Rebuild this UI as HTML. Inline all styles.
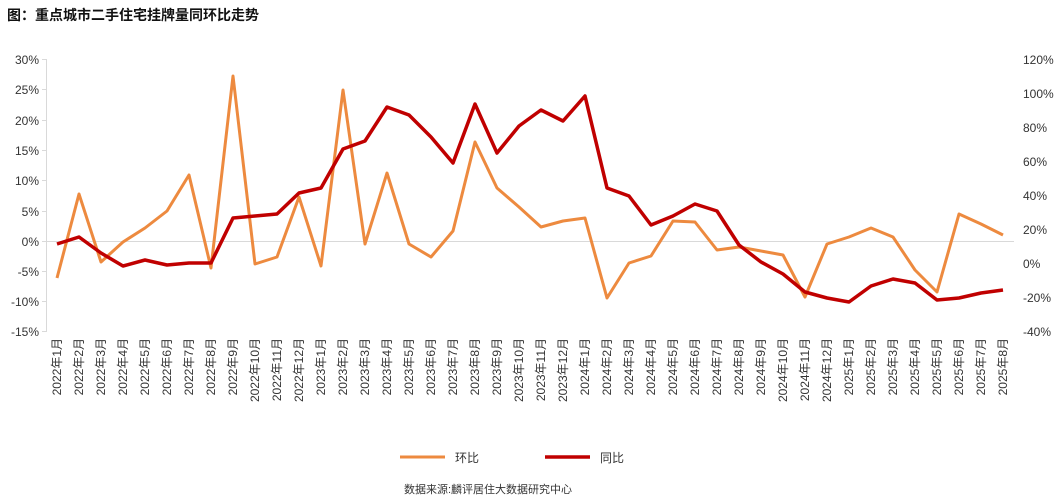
<!DOCTYPE html>
<html><head><meta charset="utf-8"><style>
body{margin:0;background:#fff;}
svg{display:block;font-family:"Liberation Sans","Noto Sans CJK SC",sans-serif;}
</style></head><body>
<svg width="1061" height="501" xmlns="http://www.w3.org/2000/svg">
<text x="7" y="20" font-size="14" font-weight="bold" fill="#111">图：重点城市二手住宅挂牌量同环比走势</text>
<g stroke="#d9d9d9" stroke-width="1" fill="none">
<line x1="46.5" y1="59" x2="46.5" y2="332"/>
<line x1="46" y1="241.5" x2="1014" y2="241.5"/>
</g>
<g stroke="#d9d9d9" stroke-width="1">
<line x1="42" y1="59.5" x2="46" y2="59.5"/><line x1="42" y1="89.5" x2="46" y2="89.5"/><line x1="42" y1="120.5" x2="46" y2="120.5"/><line x1="42" y1="150.5" x2="46" y2="150.5"/><line x1="42" y1="180.5" x2="46" y2="180.5"/><line x1="42" y1="211.5" x2="46" y2="211.5"/><line x1="42" y1="241.5" x2="46" y2="241.5"/><line x1="42" y1="271.5" x2="46" y2="271.5"/><line x1="42" y1="301.5" x2="46" y2="301.5"/><line x1="42" y1="331.5" x2="46" y2="331.5"/>
</g>
<g font-size="12" fill="#333" text-anchor="end">
<text x="39" y="64">30%</text><text x="39" y="94">25%</text><text x="39" y="125">20%</text><text x="39" y="155">15%</text><text x="39" y="185">10%</text><text x="39" y="216">5%</text><text x="39" y="246">0%</text><text x="39" y="276">-5%</text><text x="39" y="306">-10%</text><text x="39" y="336">-15%</text>
</g>
<g font-size="12" fill="#333">
<text x="1023" y="64">120%</text><text x="1023" y="98">100%</text><text x="1023" y="132">80%</text><text x="1023" y="166">60%</text><text x="1023" y="200">40%</text><text x="1023" y="234">20%</text><text x="1023" y="268">0%</text><text x="1023" y="302">-20%</text><text x="1023" y="336">-40%</text>
</g>
<polyline fill="none" stroke="#ed8a3f" stroke-width="3" stroke-linejoin="round" points="57,278 79,194 101,262 123,242 145,228 167,211 189,175 211,268 233,76 255,264 277,257 299,197 321,266 343,90 365,244 387,173 409,244 431,257 453,231 475,142 497,188 519,207 541,227 563,221 585,218 607,298 629,263 651,256 673,221 695,222 717,250 739,247 761,251 783,255 805,297 827,244 849,237 871,228 893,237 915,270 937,292 959,214 981,224 1003,235"/>
<polyline fill="none" stroke="#c00000" stroke-width="3.5" stroke-linejoin="round" points="57,244 79,237 101,253 123,266 145,260 167,265 189,263 211,263 233,218 255,216 277,214 299,193 321,188 343,149 365,141 387,107 409,115 431,137 453,163 475,104 497,153 519,126 541,110 563,121 585,96 607,188 629,196 651,225 673,216 695,204 717,211 739,245 761,262 783,274 805,292 827,298 849,302 871,286 893,279 915,283 937,300 959,298 981,293 1003,290"/>
<g font-size="12" fill="#333" text-anchor="end">
<text transform="translate(61,338) rotate(-90)">2022年1月</text>
<text transform="translate(83,338) rotate(-90)">2022年2月</text>
<text transform="translate(105,338) rotate(-90)">2022年3月</text>
<text transform="translate(127,338) rotate(-90)">2022年4月</text>
<text transform="translate(149,338) rotate(-90)">2022年5月</text>
<text transform="translate(171,338) rotate(-90)">2022年6月</text>
<text transform="translate(193,338) rotate(-90)">2022年7月</text>
<text transform="translate(215,338) rotate(-90)">2022年8月</text>
<text transform="translate(237,338) rotate(-90)">2022年9月</text>
<text transform="translate(259,338) rotate(-90)">2022年10月</text>
<text transform="translate(281,338) rotate(-90)">2022年11月</text>
<text transform="translate(303,338) rotate(-90)">2022年12月</text>
<text transform="translate(325,338) rotate(-90)">2023年1月</text>
<text transform="translate(347,338) rotate(-90)">2023年2月</text>
<text transform="translate(369,338) rotate(-90)">2023年3月</text>
<text transform="translate(391,338) rotate(-90)">2023年4月</text>
<text transform="translate(413,338) rotate(-90)">2023年5月</text>
<text transform="translate(435,338) rotate(-90)">2023年6月</text>
<text transform="translate(457,338) rotate(-90)">2023年7月</text>
<text transform="translate(479,338) rotate(-90)">2023年8月</text>
<text transform="translate(501,338) rotate(-90)">2023年9月</text>
<text transform="translate(523,338) rotate(-90)">2023年10月</text>
<text transform="translate(545,338) rotate(-90)">2023年11月</text>
<text transform="translate(567,338) rotate(-90)">2023年12月</text>
<text transform="translate(589,338) rotate(-90)">2024年1月</text>
<text transform="translate(611,338) rotate(-90)">2024年2月</text>
<text transform="translate(633,338) rotate(-90)">2024年3月</text>
<text transform="translate(655,338) rotate(-90)">2024年4月</text>
<text transform="translate(677,338) rotate(-90)">2024年5月</text>
<text transform="translate(699,338) rotate(-90)">2024年6月</text>
<text transform="translate(721,338) rotate(-90)">2024年7月</text>
<text transform="translate(743,338) rotate(-90)">2024年8月</text>
<text transform="translate(765,338) rotate(-90)">2024年9月</text>
<text transform="translate(787,338) rotate(-90)">2024年10月</text>
<text transform="translate(809,338) rotate(-90)">2024年11月</text>
<text transform="translate(831,338) rotate(-90)">2024年12月</text>
<text transform="translate(853,338) rotate(-90)">2025年1月</text>
<text transform="translate(875,338) rotate(-90)">2025年2月</text>
<text transform="translate(897,338) rotate(-90)">2025年3月</text>
<text transform="translate(919,338) rotate(-90)">2025年4月</text>
<text transform="translate(941,338) rotate(-90)">2025年5月</text>
<text transform="translate(963,338) rotate(-90)">2025年6月</text>
<text transform="translate(985,338) rotate(-90)">2025年7月</text>
<text transform="translate(1007,338) rotate(-90)">2025年8月</text>
</g>
<line x1="400" y1="457" x2="445" y2="457" stroke="#ed8a3f" stroke-width="3"/>
<text x="455" y="462" font-size="12" fill="#333">环比</text>
<line x1="545" y1="457" x2="590" y2="457" stroke="#c00000" stroke-width="3.5"/>
<text x="600" y="462" font-size="12" fill="#333">同比</text>
<text x="488" y="493" font-size="11" fill="#333" text-anchor="middle">数据来源:麟评居住大数据研究中心</text>
</svg>
</body></html>
